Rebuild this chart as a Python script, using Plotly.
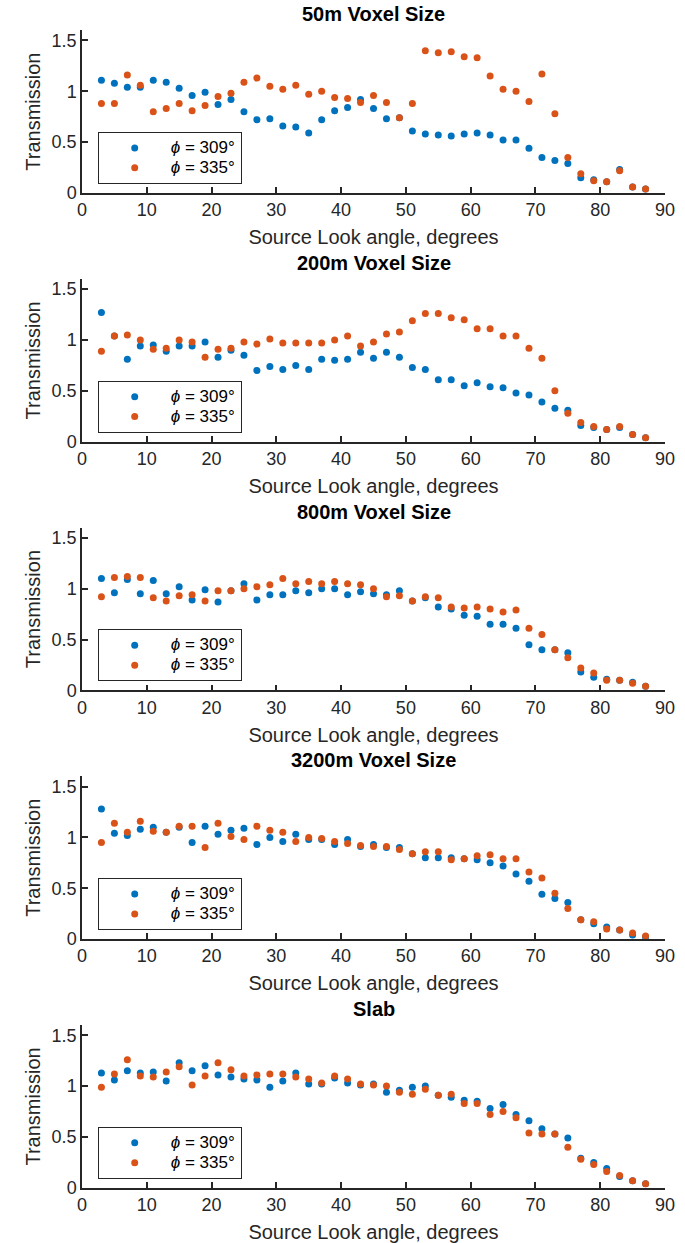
import plotly.graph_objects as go

angles = list(range(3, 89, 2))

titles = ["50m Voxel Size", "200m Voxel Size", "800m Voxel Size", "3200m Voxel Size", "Slab"]

v50_309 = [1.11, 1.08, 1.04, 1.04, 1.11, 1.09, 1.03, 0.96, 0.99, 0.87, 0.92, 0.80, 0.72, 0.73, 0.66, 0.65, 0.59, 0.72, 0.81, 0.84, 0.92, 0.83,
           0.73, 0.74, 0.61, 0.58, 0.57, 0.56, 0.58, 0.59, 0.57, 0.52, 0.52, 0.44, 0.35, 0.32, 0.29, 0.15, 0.13, 0.11, 0.23, 0.06, 0.04]
v50_335 = [0.88, 0.88, 1.16, 1.06, 0.80, 0.83, 0.88, 0.81, 0.86, 0.95, 0.98, 1.09, 1.13, 1.05, 1.02, 1.06, 0.97, 1.00, 0.94, 0.93, 0.89, 0.96,
           0.89, 0.74, 0.88, 1.40, 1.38, 1.39, 1.34, 1.33, 1.15, 1.02, 1.00, 0.90, 1.17, 0.78, 0.35, 0.19, 0.12, 0.11, 0.22, 0.06, 0.04]

v200_309 = [1.27, 1.04, 0.81, 0.94, 0.95, 0.89, 0.94, 0.94, 0.98, 0.83, 0.90, 0.85, 0.70, 0.74, 0.71, 0.75, 0.71, 0.81, 0.80, 0.81, 0.88, 0.82,
            0.88, 0.83, 0.73, 0.71, 0.61, 0.61, 0.55, 0.58, 0.54, 0.53, 0.48, 0.46, 0.39, 0.33, 0.31, 0.16, 0.14, 0.12, 0.14, 0.07, 0.04]
v200_335 = [0.89, 1.04, 1.05, 1.00, 0.91, 0.92, 1.00, 0.98, 0.83, 0.91, 0.92, 0.98, 0.96, 1.01, 0.97, 0.97, 0.97, 0.97, 1.00, 1.04, 0.94, 0.98,
            1.06, 1.08, 1.19, 1.26, 1.26, 1.22, 1.20, 1.11, 1.11, 1.04, 1.04, 0.92, 0.82, 0.50, 0.28, 0.19, 0.15, 0.12, 0.15, 0.07, 0.04]

v800_309 = [1.10, 0.96, 1.09, 0.95, 1.08, 0.95, 1.02, 0.89, 0.99, 0.87, 0.98, 1.05, 0.89, 0.94, 0.94, 0.98, 0.96, 1.00, 1.00, 0.94, 0.97, 0.95,
            0.94, 0.98, 0.88, 0.91, 0.82, 0.80, 0.74, 0.73, 0.65, 0.65, 0.61, 0.45, 0.40, 0.40, 0.37, 0.18, 0.13, 0.11, 0.10, 0.08, 0.04]
v800_335 = [0.92, 1.11, 1.12, 1.11, 0.91, 0.88, 0.93, 0.94, 0.88, 0.98, 0.98, 1.00, 1.02, 1.04, 1.10, 1.05, 1.07, 1.05, 1.07, 1.05, 1.04, 1.00,
            0.92, 0.93, 0.88, 0.92, 0.91, 0.82, 0.81, 0.82, 0.80, 0.77, 0.79, 0.61, 0.55, 0.40, 0.32, 0.22, 0.17, 0.10, 0.10, 0.07, 0.04]

v3200_309 = [1.28, 1.04, 1.02, 1.08, 1.10, 1.05, 1.10, 0.95, 1.11, 1.03, 1.07, 1.09, 0.93, 1.00, 0.96, 1.03, 0.98, 0.98, 0.93, 0.98, 0.91, 0.93,
             0.90, 0.90, 0.84, 0.80, 0.80, 0.80, 0.79, 0.78, 0.75, 0.72, 0.64, 0.57, 0.44, 0.40, 0.36, 0.19, 0.15, 0.12, 0.09, 0.04, 0.02]
v3200_335 = [0.95, 1.14, 1.05, 1.16, 1.06, 1.05, 1.11, 1.11, 0.90, 1.14, 1.01, 0.98, 1.11, 1.07, 1.05, 0.96, 1.00, 0.99, 0.96, 0.94, 0.92, 0.91,
             0.91, 0.88, 0.84, 0.86, 0.86, 0.78, 0.79, 0.82, 0.83, 0.79, 0.79, 0.66, 0.60, 0.45, 0.30, 0.19, 0.17, 0.10, 0.09, 0.06, 0.03]

vslab_309 = [1.13, 1.06, 1.15, 1.13, 1.14, 1.05, 1.23, 1.15, 1.20, 1.11, 1.09, 1.07, 1.06, 0.99, 1.05, 1.13, 1.02, 1.02, 1.08, 1.03, 1.01, 1.02,
             0.94, 0.96, 0.99, 1.00, 0.91, 0.89, 0.86, 0.85, 0.78, 0.82, 0.72, 0.66, 0.58, 0.53, 0.49, 0.29, 0.25, 0.19, 0.11, 0.07, 0.04]
vslab_335 = [0.99, 1.12, 1.26, 1.10, 1.09, 1.14, 1.19, 1.01, 1.10, 1.23, 1.16, 1.10, 1.11, 1.12, 1.12, 1.09, 1.07, 1.03, 1.10, 1.07, 1.02, 1.01,
             1.00, 0.94, 0.92, 0.97, 0.91, 0.92, 0.83, 0.83, 0.72, 0.75, 0.69, 0.54, 0.53, 0.53, 0.40, 0.28, 0.23, 0.16, 0.12, 0.07, 0.04]

series_309 = [v50_309, v200_309, v800_309, v3200_309, vslab_309]
series_335 = [v50_335, v200_335, v800_335, v3200_335, vslab_335]
legend_names = ['<span style="font-size:17px"><i>ϕ</i> = 309°</span>',
                '<span style="font-size:17px"><i>ϕ</i> = 335°</span>']
colors = ["#0072BD", "#D95319"]

W, H = 685, 1243
FONT = "Liberation Sans, Arial, sans-serif"
AXC = "#262626"

fig = go.Figure()
layout = dict(
    width=W, height=H,
    margin=dict(l=82, r=20, t=0, b=0, autoexpand=False),
    plot_bgcolor="white", paper_bgcolor="white",
    font=dict(family=FONT, color=AXC, size=18),
    annotations=[],
)

for k in range(5):
    py_b = 193 + 248.7 * k
    py_t = py_b - 162.7
    dom = [1 - py_b / H, 1 - py_t / H]
    sx = "" if k == 0 else str(k + 1)
    lg = "legend" if k == 0 else "legend" + str(k + 1)
    for vals, name, col in zip([series_309[k], series_335[k]], legend_names, colors):
        fig.add_trace(go.Scatter(
            x=angles, y=vals, mode="markers", name=name,
            marker=dict(color=col, size=7, line=dict(width=0)),
            xaxis="x" + sx, yaxis="y" + sx, legend=lg, showlegend=True,
        ))
    layout["xaxis" + sx] = dict(
        domain=[0, 1], anchor="y" + sx, range=[0, 90], tickvals=list(range(0, 91, 10)),
        showline=True, linecolor=AXC, linewidth=1.5, mirror=False,
        ticks="inside", ticklen=6, tickwidth=1.5, tickcolor=AXC,
        showgrid=False, zeroline=False,
        tickfont=dict(size=18, color=AXC, family=FONT),
        title=dict(text="Source Look angle, degrees", font=dict(size=20, color=AXC, family=FONT), standoff=11),
    )
    layout["yaxis" + sx] = dict(
        domain=dom, anchor="x" + sx, range=[0, 1.6],
        tickvals=[0, 0.5, 1, 1.5], ticktext=["0", "0.5", "1", "1.5"],
        showline=True, linecolor=AXC, linewidth=1.5, mirror=False,
        ticks="inside", ticklen=6, tickwidth=1.5, tickcolor=AXC,
        showgrid=False, zeroline=False,
        tickfont=dict(size=18, color=AXC, family=FONT),
        title=dict(text="Transmission", font=dict(size=20, color=AXC, family=FONT), standoff=6),
    )
    layout[lg] = dict(
        x=(97.7 - 82) / 583, y=1 - (py_b - 61) / H, xanchor="left", yanchor="top",
        bordercolor="#262626", borderwidth=1, bgcolor="white",
        font=dict(size=13, color="black", family=FONT),
        itemwidth=62, tracegroupgap=0,
    )
    layout["annotations"].append(dict(
        text="<b>" + titles[k] + "</b>", x=0.5, xref="paper", xanchor="center",
        y=dom[1], yref="paper", yanchor="bottom", yshift=3, showarrow=False,
        font=dict(size=20, color="black", family=FONT),
    ))

fig.update_layout(**layout)
fig.write_html("out.html")
